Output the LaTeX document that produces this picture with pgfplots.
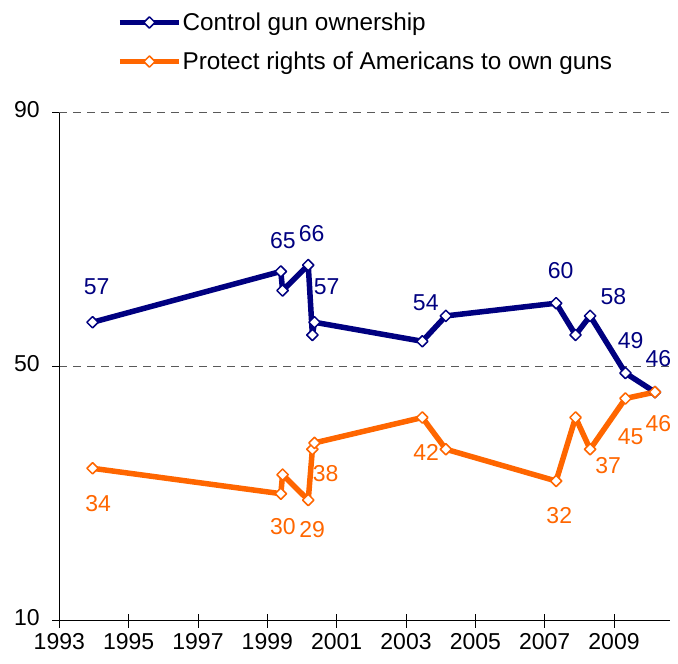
\documentclass[border=0pt]{standalone}
\usepackage{pgfplots}
\pgfplotsset{compat=1.18}
\usepackage{fontspec}
\setmainfont{Liberation Sans}
\definecolor{navyc}{RGB}{0,0,128}
\definecolor{orangec}{RGB}{255,102,0}
\pgfplotstableread{
year ctrl prot
1993.96 57 34
1999.39 65 30
1999.44 62 33
2000.18 66 29
2000.30 55 37
2000.36 57 38
2003.47 54 42
2004.15 58 37
2007.33 60 32
2007.89 55 42
2008.31 58 37
2009.33 49 45
2010.18 46 46
}\gundata
\begin{document}
\begin{tikzpicture}[font=\fontsize{23bp}{27bp}\selectfont]
\useasboundingbox (-59.3bp,-43.3bp) rectangle (618.7bp,620.7bp);
\begin{axis}[
  at={(0,0)}, anchor=south west,
  scale only axis, width=610.2bp, height=508bp,
  xmin=1993, xmax=2010.6, ymin=10, ymax=90,
  clip=false,
  axis lines*=left,
  axis line style={black, line width=0.8bp},
  ytick={10,50,90},
  ymajorgrids,
  grid style={dash pattern=on 8bp off 6bp, black!65, line width=0.8bp},
  xtick=\empty,
  extra x ticks={1993,1995,...,2009},
  extra x tick labels={1993,1995,1997,1999,2001,2003,2005,2007,2009},
  extra x tick style={tick align=center, major tick length=14bp},
  minor xtick={1994,1996,...,2010},
  tick align=outside, major tick length=7bp, minor tick length=5bp,
  tick style={black, line width=0.8bp},
  /pgf/number format/assume math mode=true,
  ticklabel style={font=\fontsize{23bp}{27bp}\selectfont},
  xticklabel style={yshift=-2bp},
  yticklabel style={xshift=-9bp, yshift=3bp},
  legend style={at={(axis description cs:0.0945,1.1988)}, anchor=north west,
    draw=none, fill=none, inner sep=0pt, row sep=18bp,
    font=\fontsize{24.3bp}{28bp}\selectfont,
    nodes={inner sep=1bp}},
  legend cell align=left,
  legend image code/.code={\draw[mark repeat=2,mark phase=2,#1] plot coordinates {(0bp,0bp)(29.5bp,0bp)(59bp,0bp)};},
]
\addplot[navyc, line width=5.5bp, line join=round, mark=square*, mark size=4bp,
  mark options={fill=white, draw=navyc, line width=1.5bp, rotate=45, solid}]
  table[x=year, y=ctrl] {\gundata};
\addlegendentry{Control gun ownership}
\addplot[orangec, line width=5.5bp, line join=round, mark=square*, mark size=4bp,
  mark options={fill=white, draw=orangec, line width=1.5bp, rotate=45, solid}]
  table[x=year, y=prot] {\gundata};
\addlegendentry{Protect rights of Americans to own guns}
\begin{scope}[every node/.style={inner sep=0pt, text=navyc}]
\node at (axis cs:1994.08,62.6) {57};
\node at (axis cs:1999.45,69.8) {65};
\node at (axis cs:2000.28,71.0) {66};
\node at (axis cs:2000.71,62.6) {57};
\node at (axis cs:2003.57,60.1) {54};
\node at (axis cs:2007.46,65.1) {60};
\node at (axis cs:2008.98,61.1) {58};
\node at (axis cs:2009.48,54.05) {49};
\node at (axis cs:2010.28,51.2) {46};
\end{scope}
\begin{scope}[every node/.style={inner sep=0pt, text=orangec}]
\node at (axis cs:1994.12,28.5) {34};
\node at (axis cs:1999.45,24.75) {30};
\node at (axis cs:2000.29,24.4) {29};
\node at (axis cs:2000.68,33.2) {38};
\node at (axis cs:2003.58,36.5) {42};
\node at (axis cs:2007.42,26.6) {32};
\node at (axis cs:2008.83,34.5) {37};
\node at (axis cs:2009.48,39.0) {45};
\node at (axis cs:2010.28,41.1) {46};
\end{scope}
\end{axis}
\end{tikzpicture}
\end{document}
